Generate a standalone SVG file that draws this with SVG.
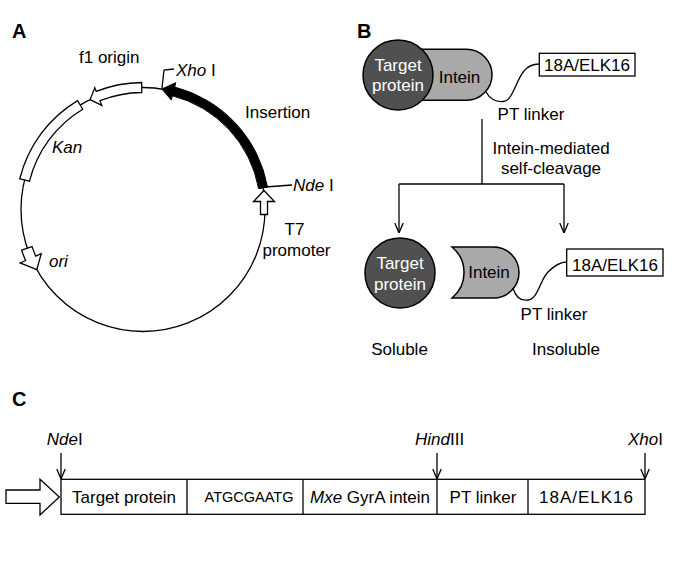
<svg xmlns="http://www.w3.org/2000/svg" width="685" height="581" viewBox="0 0 685 581">
<style>
.t{font-family:"Liberation Sans",Arial,sans-serif;font-size:17px;fill:#000}
.c{text-anchor:middle}
.i{font-style:italic}
.w{fill:#fff}
.lbl{font-family:"Liberation Sans",Arial,sans-serif;font-size:20px;font-weight:bold;fill:#000}
.ln{fill:none;stroke:#000;stroke-width:1.3}
.bx{fill:#fff;stroke:#000;stroke-width:1.3}
.blk{fill:#000;stroke:#000;stroke-width:1}
.dark{fill:#505050;stroke:#000;stroke-width:1.5}
.light{fill:#a9a9a9;stroke:#000;stroke-width:1.5}
</style>
<defs>
<marker id="v" viewBox="0 0 10 10" refX="10" refY="5" markerWidth="10" markerHeight="10" markerUnits="userSpaceOnUse" orient="auto">
<path d="M0,0.8 L10,5 L0,9.2" fill="none" stroke="#000" stroke-width="1.3"/>
</marker>
</defs>
<rect width="685" height="581" fill="#fff"/>

<!-- Panel labels -->
<text class="lbl" x="12" y="38">A</text>
<text class="lbl" x="357" y="38">B</text>
<text class="lbl" x="12" y="406">C</text>

<!-- Panel A: plasmid -->
<g id="plasmid">
<circle cx="143" cy="209.5" r="122" class="ln"/>
</g>
<g id="f1-origin">
<path class="bx" d="M141.67,82.51 A127,127 0 0 0 96.25,91.42 L94.78,87.7 L90.09,99.57 L101.77,105.36 L99.93,100.71 A117,117 0 0 1 141.78,92.51 Z"/>
<text class="t" x="79" y="63">f1 origin</text>
</g>
<g id="kan">
<path class="bx" d="M77.59,100.64 A127,127 0 0 0 19.77,178.78 L29.47,181.2 A117,117 0 0 1 82.74,109.21 Z"/>
<text class="t i" x="52" y="153">Kan</text>
</g>
<g id="ori">
<path class="bx" d="M21.62,250.11 A128,128 0 0 0 25.61,260.53 L20.11,262.93 L36.81,269.57 L41.2,253.76 L35.7,256.15 A117,117 0 0 1 32.05,246.62 Z"/>
<text class="t i" x="49" y="267">ori</text>
</g>
<g id="insertion">
<path class="blk" d="M161.88,88.96 L175.8,82.68 L174.68,87.04 A126.5,126.5 0 0 1 267.5,187.1 L258.64,188.69 A117.5,117.5 0 0 0 172.42,95.75 L171.3,100.1 Z"/>
<text class="t" x="245" y="118">Insertion</text>
</g>
<g id="xhoI-site">
<polyline class="ln" points="162,88 164,70 174,69"/>
<text class="t" x="176" y="76"><tspan class="i">Xho</tspan> I</text>
</g>
<g id="ndeI-site">
<line class="ln" x1="265" y1="187" x2="292" y2="185"/>
<text class="t" x="293" y="191"><tspan class="i">Nde</tspan> I</text>
</g>
<g id="t7-promoter">
<polygon class="bx" points="264,190.5 253.5,201.5 260.5,201.5 260.5,214.5 267.5,214.5 267.5,201.5 274.5,201.5"/>
<text class="t c" x="294.5" y="235">T7</text>
<text class="t c" x="296.5" y="256">promoter</text>
</g>

<!-- Panel B -->
<g id="fusion-protein">
<rect class="light" x="378" y="49.3" width="114" height="51" rx="25.5" ry="25.5"/>
<circle class="dark" cx="398" cy="75" r="35"/>
<text class="t c w" x="398" y="70.5">Target</text>
<text class="t c w" x="398" y="91">protein</text>
<text class="t c" x="459.5" y="83">Intein</text>
</g>
<g id="tag-top">
<rect class="bx" x="539.3" y="53.3" width="95.7" height="22.7"/>
<text class="t c" x="587" y="70.5">18A/ELK16</text>
</g>
<g id="linker-top">
<path class="ln" d="M486,92 C490,99 496,102 503,101.5 C513,101 516,80 524,71 C528,66 533,64 539.3,64"/>
<text class="t c" x="531" y="120">PT linker</text>
</g>
<g id="cleavage-label">
<text class="t c" x="551" y="153.5">Intein-mediated</text>
<text class="t c" x="551" y="174">self-cleavage</text>
</g>
<g id="soluble-target">
<circle class="dark" cx="400" cy="273" r="35"/>
<text class="t c w" x="400" y="269">Target</text>
<text class="t c w" x="400" y="289.5">protein</text>
<text class="t c" x="399.5" y="355">Soluble</text>
</g>
<g id="insoluble-intein">
<path class="light" d="M452,247 L493.5,247 A25.5,25.5 0 0 1 493.5,298 L452,298 A33,33 0 0 0 452,247 Z"/>
<text class="t c" x="489" y="277.5">Intein</text>
<path class="ln" d="M513,288 C516,298 522,301 528,300 C538,299 540,280 548,272 C554,266 560,262 566.7,262"/>
<rect class="bx" x="566.7" y="249" width="96.3" height="27"/>
<text class="t c" x="615" y="270.5">18A/ELK16</text>
<text class="t c" x="554" y="319.5">PT linker</text>
<text class="t c" x="566" y="355">Insoluble</text>
</g>

<!-- Panel C -->
<g id="promoter-arrow">
<polygon class="bx" points="6,490 40,490 40,479.3 59.3,497 40,515 40,503.3 6,503.3"/>
</g>
<g id="construct">
<rect class="bx" x="61" y="479.3" width="584" height="35"/>
<line class="ln" x1="187" y1="479.3" x2="187" y2="514.3"/>
<line class="ln" x1="303" y1="479.3" x2="303" y2="514.3"/>
<line class="ln" x1="437" y1="479.3" x2="437" y2="514.3"/>
<line class="ln" x1="528" y1="479.3" x2="528" y2="514.3"/>
<text class="t c" x="124" y="503">Target protein</text>
<text class="t c" x="249" y="502" style="font-size:14.5px">ATGCGAATG</text>
<text class="t c" x="370" y="503"><tspan class="i">Mxe</tspan> GyrA intein</text>
<text class="t c" x="483" y="503">PT linker</text>
<text class="t c" x="586.5" y="503" letter-spacing="1">18A/ELK16</text>
</g>
<g id="site-labels">
<text class="t" x="46.7" y="445"><tspan class="i">Nde</tspan>I</text>
<text class="t" x="415" y="445"><tspan class="i">Hind</tspan>III</text>
<text class="t" x="628" y="445"><tspan class="i">Xho</tspan>I</text>
</g>

<!-- Connectors -->
<g id="connectors">
<line class="ln" x1="482" y1="119" x2="482" y2="184"/>
<line class="ln" x1="399" y1="184" x2="564" y2="184"/>
<line class="ln" x1="399" y1="184" x2="399" y2="233" marker-end="url(#v)"/>
<line class="ln" x1="564" y1="184" x2="564" y2="233" marker-end="url(#v)"/>
<line class="ln" x1="61" y1="453" x2="61" y2="479" marker-end="url(#v)"/>
<line class="ln" x1="437" y1="453" x2="437" y2="479" marker-end="url(#v)"/>
<line class="ln" x1="645" y1="453" x2="645" y2="479" marker-end="url(#v)"/>
</g>
</svg>
